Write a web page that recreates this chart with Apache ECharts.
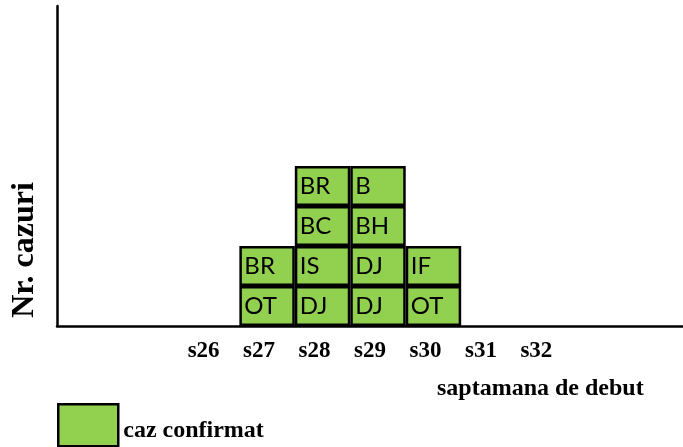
<!DOCTYPE html>
<html>
<head>
<meta charset="utf-8">
<style>html,body{margin:0;padding:0;background:#fff;}#c{width:683px;height:447px;}</style>
<script src="https://cdn.jsdelivr.net/npm/echarts@6/dist/echarts.min.js"></script>
</head>
<body>
<div id="c"></div>
<script>
// Weeks (blank bands are empty weeks shown without a label)
var categories = ['', '', 's26', 's27', 's28', 's29', 's30', 's31', 's32', '', ''];
// Confirmed cases per week, listed bottom to top (county codes)
var casesS27 = ['OT', 'BR'];
var casesS28 = ['DJ', 'IS', 'BC', 'BR'];
var casesS29 = ['DJ', 'DJ', 'BH', 'B'];
var casesS30 = ['OT', 'IF'];
var casesByWeek = { s26: [], s27: casesS27, s28: casesS28, s29: casesS29, s30: casesS30, s31: [], s32: [] };
var seriesName = 'caz confirmat';
var xAxisTitle = 'saptamana de debut';
var yAxisTitle = 'Nr. cazuri';

var GREEN = '#92D050';
var maxLevel = 4;
var series = [];
for (var k = 0; k < maxLevel; k++) {
  series.push({
    name: seriesName,
    type: 'bar',
    stack: 'cases',
    xAxisIndex: 1,
    yAxisIndex: 1,
    barCategoryGap: '0%',
    itemStyle: { color: GREEN, borderColor: '#000', borderWidth: 2.5 },
    label: {
      show: true,
      position: 'insideLeft',
      distance: 5,
      color: '#000',
      fontFamily: 'Lato',
      fontSize: 24,
      formatter: function (p) { return p.data.code; }
    },
    data: categories.map(function (c) {
      var list = casesByWeek[c];
      if (list && list[k]) return { value: 1, code: list[k] };
      return '-';
    })
  });
}

var serif = '"Liberation Serif", "DejaVu Serif", serif';
var chart = echarts.init(document.getElementById('c'));
chart.setOption({
  animation: false,
  title: {
    text: xAxisTitle,
    left: 437,
    top: 377,
    padding: 0,
    textStyle: { fontFamily: serif, fontWeight: 'bold', fontSize: 24, color: '#000' }
  },
  legend: {
    data: [seriesName],
    left: 57,
    top: 403,
    padding: 0,
    itemWidth: 60,
    itemHeight: 42,
    itemGap: 5,
    icon: 'rect',
    itemStyle: { color: GREEN, borderColor: '#000', borderWidth: 2.5 },
    formatter: '{a|{name}}',
    textStyle: {
      fontFamily: serif, fontWeight: 'bold', fontSize: 24, color: '#000',
      rich: { a: { fontFamily: serif, fontWeight: 'bold', fontSize: 24, color: '#000', padding: [12, 0, 0, 0] } }
    }
  },
  graphic: [{
    type: 'text',
    x: 25,
    y: 250,
    rotation: Math.PI / 2,
    style: {
      text: yAxisTitle,
      font: 'bold 32px ' + serif,
      fill: '#000',
      textAlign: 'center',
      textVerticalAlign: 'middle'
    }
  }],
  grid: [
    { left: 57, right: 0, top: 6, bottom: 121 },
    { left: 73, right: -6, top: 6, bottom: 121 }
  ],
  xAxis: [
    { gridIndex: 0, type: 'value', min: 0, max: 1,
      axisLine: { show: true, lineStyle: { color: '#000', width: 2.5 } },
      axisTick: { show: false }, axisLabel: { show: false }, splitLine: { show: false } },
    { gridIndex: 1, type: 'category', data: categories,
      axisLine: { show: false }, axisTick: { show: false }, splitLine: { show: false },
      axisLabel: { interval: 0, margin: 14, padding: [0, 16, 0, 0], fontFamily: serif, fontWeight: 'bold', fontSize: 23, color: '#000' } }
  ],
  yAxis: [
    { gridIndex: 0, type: 'value', min: 0, max: 1,
      axisLine: { show: true, lineStyle: { color: '#000', width: 2.5 } },
      axisTick: { show: false }, axisLabel: { show: false }, splitLine: { show: false } },
    { gridIndex: 1, type: 'value', min: 0, max: 8, show: false, splitLine: { show: false } }
  ],
  series: series
});
</script>
</body>
</html>
